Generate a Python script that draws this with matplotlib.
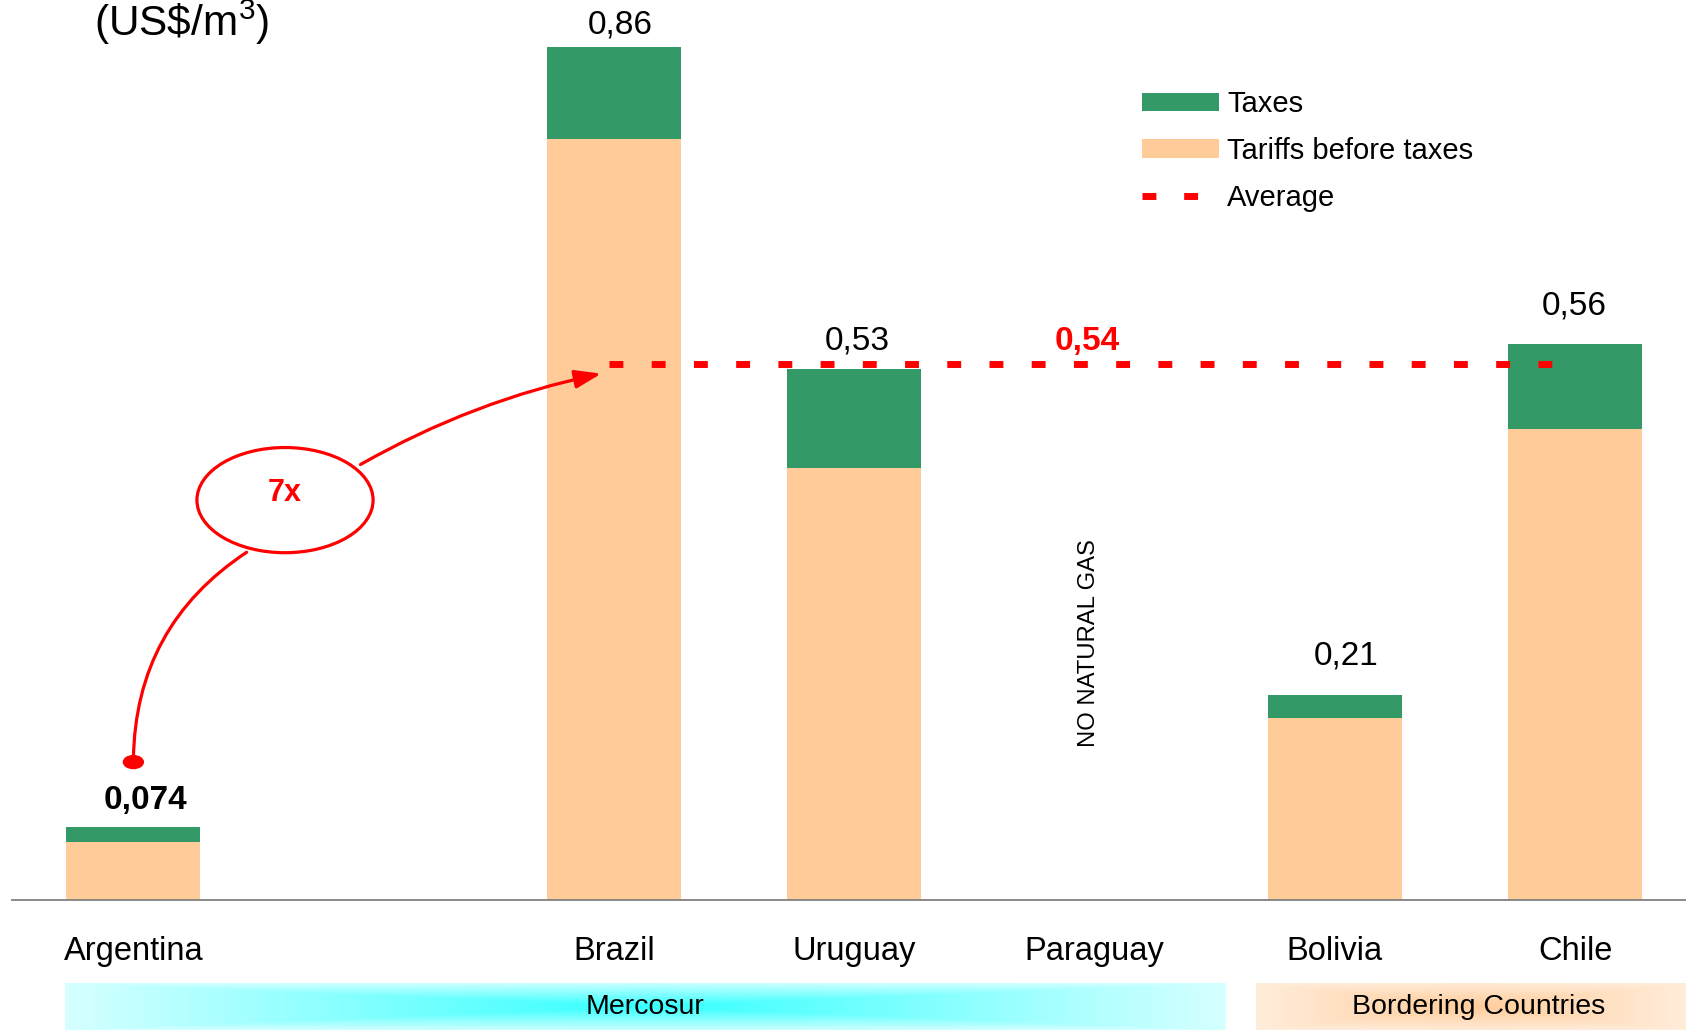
import matplotlib
matplotlib.use("Agg")
import matplotlib.pyplot as plt
import numpy as np
from matplotlib.patches import Ellipse, FancyArrowPatch, Patch
from matplotlib.lines import Line2D

plt.rcParams['font.family'] = ['Liberation Sans', 'DejaVu Sans']
plt.rcParams['mathtext.fontset'] = 'custom'
plt.rcParams['mathtext.rm'] = 'Liberation Sans'
plt.rcParams['mathtext.it'] = 'Liberation Sans'

# data (US$/m3)
countries = ['Argentina', 'Brazil', 'Uruguay', 'Paraguay', 'Bolivia', 'Chile']
xpos = [0, 2, 3, 4, 5, 6]
tariffs = [0.058, 0.767, 0.435, None, 0.183, 0.475]
taxes = [0.016, 0.093, 0.100, None, 0.024, 0.085]
value_labels = ['0,074', '0,86', '0,53', None, '0,21', '0,56']
average = 0.54
average_label = '0,54'

green = '#339966'
peach = '#FFCC99'

fig = plt.figure(figsize=(16.86, 10.31), dpi=100)
ax = fig.add_axes([0, 0, 1, 1])

# bars
bx = [x for x, t in zip(xpos, tariffs) if t is not None]
bt = [t for t in tariffs if t is not None]
bk = [t for t in taxes if t is not None]
ax.bar(bx, bt, width=0.558, color=peach, zorder=2)
ax.bar(bx, bk, bottom=bt, width=0.558, color=green, zorder=2)

# baseline
ax.plot([-0.505, 6.47], [0, 0], color='#808080', lw=1.3, zorder=3)

# value labels (small per-label nudges to sit like the original)
lab_dx = [0.051, 0.024, 0.011, 0, 0.047, -0.002]
lab_dy = [0.0265, 0.022, 0.028, 0, 0.039, 0.039]
for x, t, k, lab, dx, dy in zip(xpos, tariffs, taxes, value_labels, lab_dx, lab_dy):
    if lab is None:
        continue
    bold = 'bold' if x == 0 else 'normal'
    ax.text(x + dx, t + k + dy, lab, ha='center', va='center',
            fontsize=24, fontweight=bold, color='black')

# category labels
for x, c in zip(xpos, countries):
    ax.text(x, -0.0515, c, ha='center', va='center', fontsize=23.5)

# average line
ax.plot([xpos[1] - 0.02, xpos[-1] - 0.07], [average, average], color='red',
        lw=5, dashes=(2, 4.08), zorder=4)
ax.text(xpos[3] - 0.03, 0.5627, average_label, ha='center', va='center',
        fontsize=24, fontweight='bold', color='red')

ax.text(3.977, 0.259, 'NO NATURAL GAS', rotation=90, ha='center',
        va='center', fontsize=17.2)

# 7x annotation
ax.add_patch(Ellipse((0, 0.139), 0.083, 0.013, color='red', zorder=5))
ax.add_patch(FancyArrowPatch((0, 0.139), (0.481, 0.352),
                             connectionstyle='arc3,rad=-0.27',
                             arrowstyle='-', color='red', lw=2.3, zorder=5))
ax.add_patch(Ellipse((0.631, 0.403), 0.733, 0.106, fill=False, ec='red',
                     lw=2.3, zorder=5))
ax.text(0.631, 0.41, '7x', ha='center', va='center', fontsize=22,
        fontweight='bold', color='red')
ax.add_patch(FancyArrowPatch((0.935, 0.4375), (1.958, 0.531),
                             connectionstyle='arc3,rad=-0.08',
                             arrowstyle='-|>,head_length=0.8,head_width=0.28',
                             mutation_scale=20, color='red', lw=2.3,
                             zorder=5))

# unit
fig.text(182 / 1686, 1 - 22 / 1031, r'(US\$/m$^{3}$)', ha='center',
         va='center', fontsize=30.5)


# group bands with gradient
def band(x0, x1, y0, y1, c_center, c_edge, label, tdx=0):
    nx, ny = 400, 60
    u = np.abs(np.linspace(-1, 1, nx))
    v = np.abs(np.linspace(-1, 1, ny))
    U, V = np.meshgrid(u, v)
    t = np.clip(np.maximum(U, V * 0.9 + U * 0.1), 0, 1)
    c0 = np.array(c_center)
    c1 = np.array(c_edge)
    img = c0[None, None, :] * (1 - t[..., None]) + c1[None, None, :] * t[..., None]
    ax.imshow(img, extent=[x0, x1, y1, y0], aspect='auto',
              interpolation='bilinear', zorder=1)
    ax.text((x0 + x1) / 2 + tdx, (y0 + y1) / 2, label, ha='center',
            va='center', fontsize=20.5, zorder=3)


band(-0.286, 4.543, -0.0837, -0.131, (0.2, 1.0, 1.0), (0.84, 1.0, 1.0),
     'Mercosur')
band(4.671, 6.47, -0.0837, -0.131, (1.0, 0.8, 0.6), (1.0, 0.93, 0.86),
     'Bordering Countries', tdx=0.027)

# legend
handles = [Patch(facecolor=green), Patch(facecolor=peach),
           Line2D([], [], color='red', lw=5, dashes=(2, 4))]
fig.legend(handles, ['Taxes', 'Tariffs before taxes', 'Average'],
           loc='upper left', bbox_to_anchor=(0.6773, 0.9124), frameon=False,
           fontsize=21, handlelength=2.64, handleheight=0.62,
           handletextpad=0.28, labelspacing=0.64, borderpad=0,
           borderaxespad=0)

ax.set_xlim(-0.555, 6.461)
ax.set_ylim(-0.132, 0.907)
ax.axis('off')

fig.savefig('out.png', dpi=100)
